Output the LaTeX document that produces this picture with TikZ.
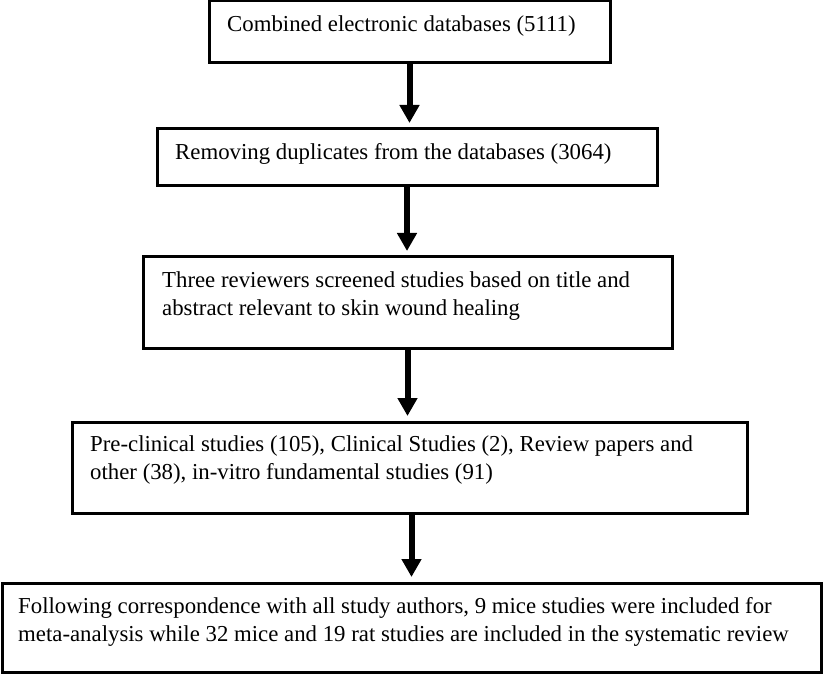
\documentclass[tikz,border=0pt]{standalone}
\usepackage{fontspec}
\setmainfont{Liberation Serif}
\usetikzlibrary{arrows.meta,calc}
\begin{document}
\begin{tikzpicture}[x=1pt,y=-1pt,
  flowbox/.style={draw=black,line width=3pt,rectangle,inner sep=0pt,outer sep=0pt,anchor=north west},
  boxtext/.style={anchor=base west,inner sep=0pt,align=left,font=\fontsize{22.8}{28}\selectfont},
  flowarrow/.style={line width=6pt,-{Triangle[length=18pt,width=19pt]},shorten >=6pt}]
\useasboundingbox (0,0) rectangle (824,676);
\node[flowbox,minimum width=401pt,minimum height=62pt] (b1) at (209,1) {};
\node[flowbox,minimum width=500pt,minimum height=57pt] (b2) at (157,129) {};
\node[flowbox,minimum width=529pt,minimum height=91pt] (b3) at (143,257) {};
\node[flowbox,minimum width=675pt,minimum height=91pt] (b4) at (72,422) {};
\node[flowbox,minimum width=819pt,minimum height=89pt] (b5) at (2,583) {};
\node[boxtext] (t1) at ($(b1.north west)+(18,31)$) {Combined electronic databases (5111)};
\node[boxtext] (t2) at ($(b2.north west)+(18,31)$) {Removing duplicates from the databases (3064)};
\node[boxtext] (t3) at ($(b3.north west)+(19,58)$) {Three reviewers screened studies based on title and\\abstract relevant to skin wound healing};
\node[boxtext] (t4) at ($(b4.north west)+(18,57)$) {Pre-clinical studies (105), Clinical Studies (2), Review papers and\\other (38), in-vitro fundamental studies (91)};
\node[boxtext] (t5) at ($(b5.north west)+(16,58)$) {Following correspondence with all study authors, 9 mice studies were included for\\meta-analysis while 32 mice and 19 rat studies are included in the systematic review};
\draw[flowarrow] (b1.south) -- (b1.south |- b2.north);
\draw[flowarrow] (b2.south) -- (b2.south |- b3.north);
\draw[flowarrow] (b3.south) -- (b3.south |- b4.north);
\draw[flowarrow] ($(b4.south)+(2,0)$) -- ($(b4.south |- b5.north)+(2,0)$);
\end{tikzpicture}
\end{document}
